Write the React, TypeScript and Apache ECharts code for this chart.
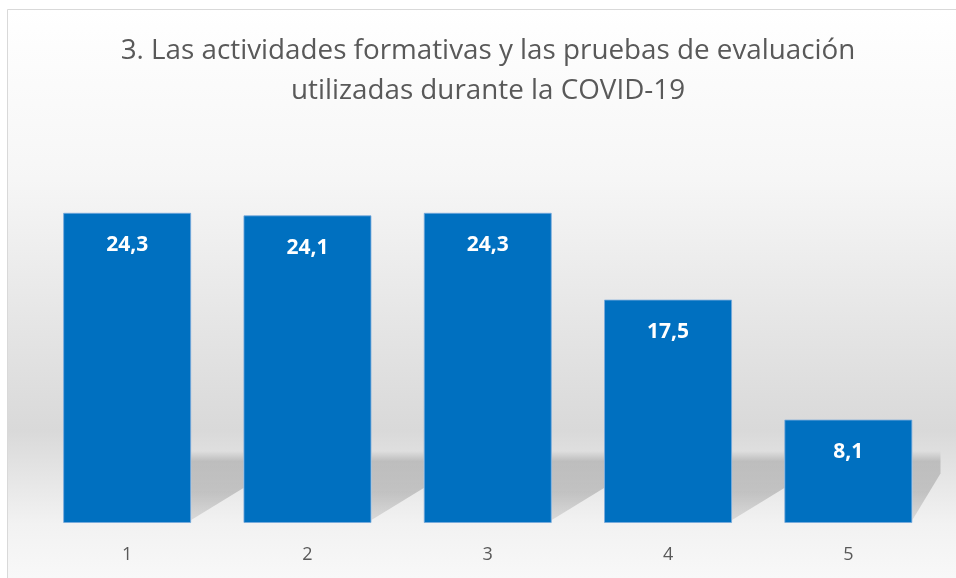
import React, { useEffect, useRef } from "react";
import * as echarts from "echarts";

const categories = ["1", "2", "3", "4", "5"];
const values = [24.3, 24.1, 24.3, 17.5, 8.1];
const titleText = "3. Las actividades formativas y las pruebas de evaluación\nutilizadas durante la COVID-19";

export default function App() {
  const ref = useRef<HTMLDivElement>(null);
  useEffect(() => {
    if (!ref.current) return;
    const chart = echarts.init(ref.current, null, { renderer: "svg" });
    const bg = new echarts.graphic.LinearGradient(
      0, 9, 0, 578,
      [
        { offset: 0, color: "#ffffff" },
        { offset: 0.3, color: "#f6f6f6" },
        { offset: 0.74, color: "#d9d9d9" },
        { offset: 0.905, color: "#f2f2f2" },
        { offset: 1, color: "#f8f8f8" },
      ],
      true
    );
    chart.setOption({
      animation: false,
      title: {
        text: titleText,
        left: 488,
        textAlign: "center",
        top: 28,
        padding: 0,
        textStyle: {
          fontFamily: "Open Sans",
          fontSize: 27.8,
          fontWeight: "normal",
          color: "#595959",
          lineHeight: 40,
        },
      },
      graphic: [
        {
          type: "rect",
          z: -10,
          silent: true,
          shape: { x: 7.5, y: 9.5, width: 980, height: 600 },
          style: { fill: bg, stroke: "#d9d9d9", lineWidth: 1 },
        },
      ],
      grid: { left: 37, right: 17.5, top: 140, bottom: 55 },
      xAxis: {
        type: "category",
        data: categories,
        axisLine: { show: false },
        axisTick: { show: false },
        axisLabel: {
          fontFamily: "Open Sans",
          fontSize: 18,
          color: "#595959",
          margin: 21,
        },
      },
      yAxis: { type: "value", min: 0, max: 30, show: false, splitLine: { show: false } },
      series: [
        {
          type: "custom",
          z: 1,
          silent: true,
          data: values.map((v, i) => [i, v]),
          renderItem: (params: any, api: any) => {
            const i = api.value(0);
            const base = api.coord([i, 0]);
            const cat = api.size([1, 0])[0];
            const bw = cat * 0.71;
            const gap = cat - bw;
            const xr = base[0] + bw / 2;
            const gridRight = params.coordSys.x + params.coordSys.width;
            const w = Math.min(gap, gridRight - xr + 2);
            const yb = base[1];
            const top = yb - 72;
            return {
              type: "polygon",
              shape: {
                points: [
                  [xr, top],
                  [xr + w, top],
                  [xr + w, yb - 35 - (gap - w) * 0.6],
                  [xr, yb - 3],
                ],
              },
              style: {
                fill: new echarts.graphic.LinearGradient(0, 0, 0, 1, [
                  { offset: 0, color: "rgba(0,0,0,0)" },
                  { offset: 0.15, color: "rgba(0,0,0,0.16)" },
                  { offset: 0.6, color: "rgba(0,0,0,0.17)" },
                  { offset: 1, color: "rgba(0,0,0,0.1)" },
                ]),
              },
            };
          },
        },
        {
          type: "bar",
          z: 2,
          data: values,
          barWidth: "71%",
          itemStyle: {
            color: "#0070C0",
            borderColor: "rgba(120,170,220,0.8)",
            borderWidth: 1,
          },
          label: {
            show: true,
            position: "insideTop",
            distance: 20,
            formatter: (p: any) => String(p.value).replace(".", ","),
            fontFamily: "Open Sans",
            fontSize: 21,
            fontWeight: "bold",
            color: "#ffffff",
          },
        },
      ],
    });
    return () => chart.dispose();
  }, []);
  return (
    <div
      ref={ref}
      style={{ position: "fixed", left: 0, top: 0, width: 956, height: 578 }}
    />
  );
}
